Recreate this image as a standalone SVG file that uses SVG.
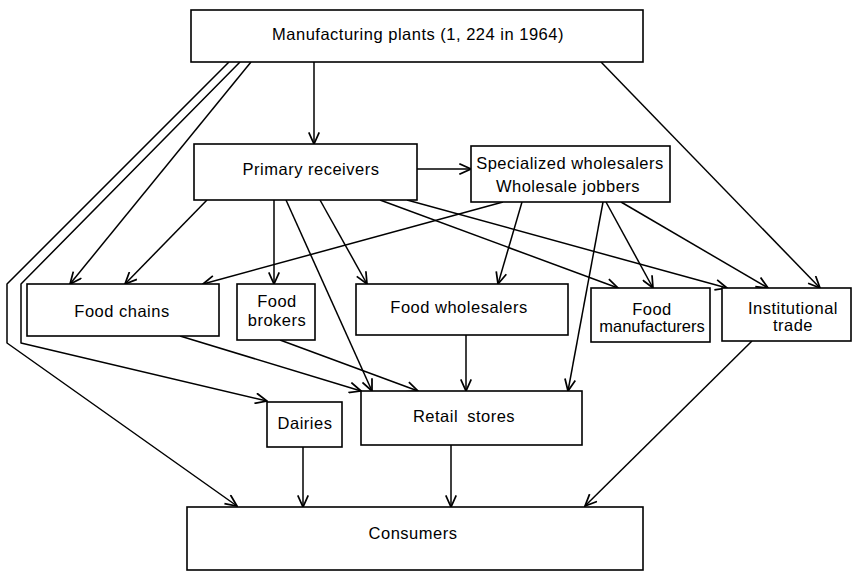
<svg xmlns="http://www.w3.org/2000/svg" width="858" height="572" viewBox="0 0 858 572">
<style>
.box{fill:#fff;stroke:#000;stroke-width:1.6}
.lbl{font-family:"Liberation Sans",Arial,sans-serif;font-size:16.5px;letter-spacing:0.5px;fill:#000;text-anchor:middle}
.c{fill:none;stroke:#000;stroke-width:1.5;stroke-linejoin:round}
.a{marker-end:url(#arr)}
</style>
<defs>
<marker id="arr" markerUnits="userSpaceOnUse" markerWidth="14" markerHeight="12" viewBox="0 0 12 10" refX="11" refY="5" orient="auto">
<path d="M1,0.5 L11,5 L1,9.5" fill="none" stroke="#000" stroke-width="1.5"/>
</marker>
</defs>
<rect width="858" height="572" fill="#fff"/>
<g id="connectors">
<path class="c a" d="M314,62 V144"/>
<path class="c a" d="M417,169 H471"/>
<path class="c a" d="M229,62 L7,284 L7,343 L237,506"/>
<path class="c a" d="M240,62 L21,284 L21,343 L267,401"/>
<path class="c a" d="M251,62 L70,284"/>
<path class="c a" d="M601,62 L820,288"/>
<path class="c a" d="M207,200 L125,284"/>
<path class="c a" d="M274,200 V284"/>
<path class="c a" d="M286,200 L372,391"/>
<path class="c a" d="M320,200 L367,284"/>
<path class="c a" d="M380,200 L618,288"/>
<path class="c a" d="M407,200 L727,288"/>
<path class="c a" d="M503,202 L203,284"/>
<path class="c a" d="M522,202 L498,284"/>
<path class="c a" d="M603,202 L568,391"/>
<path class="c a" d="M606,202 L653,288"/>
<path class="c a" d="M621,202 L768,288"/>
<path class="c a" d="M180,336 L361,391"/>
<path class="c a" d="M280,340 L418,391"/>
<path class="c a" d="M466,335 V391"/>
<path class="c a" d="M752,341 L585,506"/>
<path class="c a" d="M303,447 V507"/>
<path class="c a" d="M451,445 V507"/>
</g>
<g id="manufacturing-plants">
<rect class="box" x="191" y="10" width="452" height="52"/>
<text class="lbl" x="418" y="40">Manufacturing plants (1, 224 in 1964)</text>
</g>
<g id="primary-receivers">
<rect class="box" x="194" y="144" width="223" height="56"/>
<text class="lbl" x="311" y="175">Primary receivers</text>
</g>
<g id="specialized-wholesalers">
<rect class="box" x="471" y="146" width="199" height="56"/>
<text class="lbl" x="570" y="169">Specialized wholesalers</text>
<text class="lbl" x="568" y="192">Wholesale jobbers</text>
</g>
<g id="food-chains">
<rect class="box" x="27" y="284" width="192" height="52"/>
<text class="lbl" x="122" y="317">Food chains</text>
</g>
<g id="food-brokers">
<rect class="box" x="237" y="284" width="78" height="56"/>
<text class="lbl" x="277" y="307">Food</text>
<text class="lbl" x="277" y="326">brokers</text>
</g>
<g id="food-wholesalers">
<rect class="box" x="356" y="284" width="212" height="51"/>
<text class="lbl" x="459" y="313">Food wholesalers</text>
</g>
<g id="food-manufacturers">
<rect class="box" x="591" y="288" width="119" height="54"/>
<text class="lbl" x="652" y="315">Food</text>
<text class="lbl" x="652" y="332" style="letter-spacing:0">manufacturers</text>
</g>
<g id="institutional-trade">
<rect class="box" x="722" y="288" width="129" height="53"/>
<text class="lbl" x="793" y="314">Institutional</text>
<text class="lbl" x="793" y="331">trade</text>
</g>
<g id="dairies">
<rect class="box" x="267" y="402" width="75" height="45"/>
<text class="lbl" x="305" y="429">Dairies</text>
</g>
<g id="retail-stores">
<rect class="box" x="361" y="391" width="221" height="54"/>
<text class="lbl" x="464" y="422" style="word-spacing:4px">Retail stores</text>
</g>
<g id="consumers">
<rect class="box" x="187" y="507" width="456" height="63"/>
<text class="lbl" x="413" y="539">Consumers</text>
</g>
</svg>
